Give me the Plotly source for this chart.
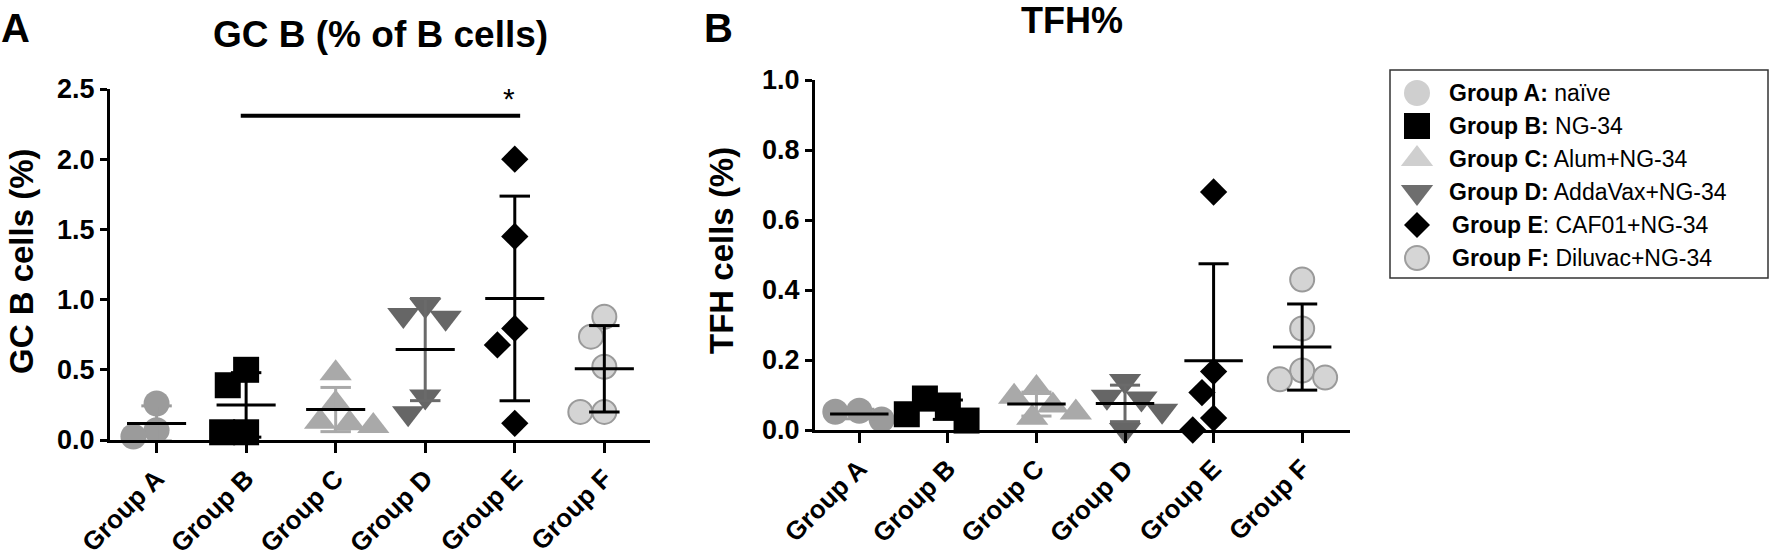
import math
import plotly.graph_objects as go

W, H = 1772, 558

# ---------------- data ----------------
groups = ["Group A", "Group B", "Group C", "Group D", "Group E", "Group F"]
descriptions = ["naïve", "NG-34", "Alum+NG-34", "AddaVax+NG-34", "CAF01+NG-34", "Diluvac+NG-34"]

gcb_values = [
    [0.26, 0.07, 0.025],
    [0.50, 0.39, 0.055, 0.055],
    [0.475, 0.26, 0.13, 0.12, 0.10],
    [0.96, 0.89, 0.87, 0.31, 0.19],
    [2.00, 1.45, 0.795, 0.677, 0.119],
    [0.878, 0.736, 0.522, 0.20, 0.20],
]
tfh_values = [
    [0.055, 0.052, 0.030],
    [0.070, 0.090, 0.027, 0.045],
    [0.12, 0.095, 0.07, 0.05, 0.035],
    [0.14, 0.095, 0.09, 0.055, 0.0],
    [0.68, 0.167, 0.107, 0.034, 0.0],
    [0.43, 0.29, 0.17, 0.145, 0.15],
]
gcb_ticks = [0.0, 0.5, 1.0, 1.5, 2.0, 2.5]
tfh_ticks = [0.0, 0.2, 0.4, 0.6, 0.8, 1.0]
sig_from, sig_to, sig_y, sig_label = "Group B", "Group E", 2.31, "*"

# ---------------- styles ----------------
FONT = "Liberation Sans, Arial, sans-serif"
symbols = ["circle", "square", "triangle-up", "triangle-down", "diamond", "circle"]
fills = ["#9b9b9b", "#000000", "#a9a9a9", "#666666", "#000000", "#d4d4d4"]
edges = ["#9b9b9b", "#000000", "#a9a9a9", "#666666", "#000000", "#9a9a9a"]
edge_w = [0, 0, 0, 0, 0, 2]
sizes = [26, 26, 28, 28, 21, 24]
err_colors = ["#9b9b9b", "#000000", "#a9a9a9", "#6a6a6a", "#000000", "#000000"]
legend_fills = ["#cfcfcf", "#000000", "#cfcfcf", "#6e6e6e", "#000000", "#d6d6d6"]
legend_edges = ["#cfcfcf", "#000000", "#cfcfcf", "#6e6e6e", "#000000", "#9e9e9e"]

panels = [
    dict(name="A", values=gcb_values, ticks=gcb_ticks, x0=110, x1=650, xr=(-0.52, 5.51),
         y0=440, y1=89, yr=(0, 2.5), xa="x", ya="y"),
    dict(name="B", values=tfh_values, ticks=tfh_ticks, x0=815, x1=1350, xr=(-0.5, 5.54),
         y0=430, y1=80, yr=(0, 1.0), xa="x2", ya="y2"),
]

MEAN_HALF = 0.33
CAP_HALF = 0.17
DIAM = 24.0


def swarm(vals, ppu_y, ppu_x, d=DIAM):
    placed, offs = [], []
    for v in vals:
        y = v * ppu_y
        cands = [0.0]
        for px, py in placed:
            dy = abs(y - py)
            if dy < d:
                dx = math.sqrt(d * d - dy * dy)
                cands += [px + dx, px - dx]
        cands.sort(key=lambda c: (round(abs(c), 6), c))
        chosen = cands[-1]
        for c in cands:
            if all((c - px) ** 2 + (y - py) ** 2 >= d * d - 1e-6 for px, py in placed):
                chosen = c
                break
        placed.append((chosen, y))
        offs.append(chosen / ppu_x)
    return offs


def mean_sd(vals):
    m = sum(vals) / len(vals)
    sd = math.sqrt(sum((v - m) ** 2 for v in vals) / (len(vals) - 1))
    return m, sd


fig = go.Figure()

for p in panels:
    ppu_x = (p["x1"] - p["x0"]) / (p["xr"][1] - p["xr"][0])
    ppu_y = (p["y0"] - p["y1"]) / (p["yr"][1] - p["yr"][0])
    for i, vals in enumerate(p["values"]):
        offs = swarm(vals, ppu_y, ppu_x)
        fig.add_trace(go.Scatter(
            x=[i + o for o in offs], y=vals, mode="markers", xaxis=p["xa"], yaxis=p["ya"],
            marker=dict(symbol=symbols[i], size=sizes[i], color=fills[i],
                        line=dict(color=edges[i], width=edge_w[i])),
            cliponaxis=False, showlegend=False, hoverinfo="skip"))
    for i, vals in enumerate(p["values"]):
        m, sd = mean_sd(vals)
        xs = [i, i, None, i - CAP_HALF, i + CAP_HALF, None, i - CAP_HALF, i + CAP_HALF]
        ys = [m - sd, m + sd, None, m + sd, m + sd, None, m - sd, m - sd]
        fig.add_trace(go.Scatter(x=xs, y=ys, mode="lines", xaxis=p["xa"], yaxis=p["ya"],
                                 line=dict(color=err_colors[i], width=3),
                                 showlegend=False, hoverinfo="skip"))
        fig.add_trace(go.Scatter(x=[i - MEAN_HALF, i + MEAN_HALF], y=[m, m], mode="lines",
                                 xaxis=p["xa"], yaxis=p["ya"],
                                 line=dict(color="#000000", width=3),
                                 showlegend=False, hoverinfo="skip"))

# legend drawn on a pixel overlay axis
LEG_X, LEG_TEXT_X, LEG_TOP, LEG_STEP = 1417, 1447, 93, 33.0
for i, g in enumerate(groups):
    fig.add_trace(go.Scatter(
        x=[LEG_X], y=[LEG_TOP + LEG_STEP * i], mode="markers", xaxis="x3", yaxis="y3",
        marker=dict(symbol=symbols[i], size=sizes[i] if i != 4 else 20, color=legend_fills[i],
                    line=dict(color=legend_edges[i], width=edge_w[i])),
        showlegend=False, hoverinfo="skip"))

annotations = []
for i, (g, d) in enumerate(zip(groups, descriptions)):
    label = f"<b>{g}</b>: {d}" if i == 4 else f"<b>{g}:</b> {d}"
    annotations.append(dict(text=label, x=(LEG_TEXT_X + (3 if i >= 4 else 0)) / W,
                            y=1 - (LEG_TOP + LEG_STEP * i) / H, xref="paper", yref="paper",
                            xanchor="left", yanchor="middle", showarrow=False,
                            font=dict(family=FONT, size=23, color="#000")))


def ann(text, px, py, size, angle=0, bold=True):
    return dict(text=f"<b>{text}</b>" if bold else text, x=px / W, y=1 - py / H,
                xref="paper", yref="paper", xanchor="center", yanchor="middle",
                showarrow=False, textangle=angle, font=dict(family=FONT, size=size, color="#000"))


annotations += [
    ann("A", 16, 28, 40),
    ann("B", 718, 28, 40),
    ann("GC B (% of B cells)", 380, 34, 37),
    ann("TFH%", 1072, 20, 36),
    ann("GC B cells (%)", 21, 261, 33, angle=-90),
    ann("TFH cells (%)", 722, 251, 33, angle=-90),
]

i_from, i_to = groups.index(sig_from), groups.index(sig_to)
shapes = [
    dict(type="line", xref="x", yref="y", x0=i_from - 0.06, x1=i_to + 0.06, y0=sig_y, y1=sig_y,
         line=dict(color="#000", width=4)),
    dict(type="rect", xref="paper", yref="paper", x0=1390 / W, x1=1768 / W,
         y0=1 - 278 / H, y1=1 - 70 / H, line=dict(color="#333", width=1.5)),
]
annotations.append(dict(text=sig_label, x=i_to - 0.07, y=sig_y + 0.12, xref="x", yref="y",
                        xanchor="center", yanchor="middle", showarrow=False,
                        font=dict(family=FONT, size=30, color="#000")))

layout = dict(
    template="none",
    width=W, height=H, margin=dict(l=0, r=0, t=0, b=0, pad=0), autosize=False,
    paper_bgcolor="white", plot_bgcolor="rgba(0,0,0,0)",
    shapes=shapes, annotations=annotations, showlegend=False,
)

for p in panels:
    xkey = "xaxis" if p["xa"] == "x" else "xaxis2"
    ykey = "yaxis" if p["ya"] == "y" else "yaxis2"
    layout[xkey] = dict(domain=[p["x0"] / W, p["x1"] / W], range=list(p["xr"]), anchor=p["ya"],
                        tickmode="array", tickvals=list(range(len(groups))), ticktext=groups,
                        tickangle=-45, ticks="outside", ticklen=10, tickwidth=3, tickcolor="#000",
                        showline=True, linewidth=3, linecolor="#000", showgrid=False,
                        zeroline=False, fixedrange=True, automargin=False,
                        tickfont=dict(family=FONT, size=26, color="#000", weight="bold"))
    layout[ykey] = dict(domain=[1 - p["y0"] / H, 1 - p["y1"] / H], range=list(p["yr"]),
                        anchor=p["xa"], tickmode="array", tickvals=p["ticks"],
                        ticktext=[f"{t:.1f}" for t in p["ticks"]],
                        ticks="outside", ticklen=7, tickwidth=3, tickcolor="#000",
                        showline=True, linewidth=3, linecolor="#000", showgrid=False,
                        zeroline=False, fixedrange=True, automargin=False,
                        tickfont=dict(family=FONT, size=27, color="#000", weight="bold"))

layout["xaxis3"] = dict(domain=[0, 1], range=[0, W], anchor="y3", visible=False,
                        fixedrange=True, automargin=False)
layout["yaxis3"] = dict(domain=[0, 1], range=[H, 0], anchor="x3", visible=False,
                        fixedrange=True, automargin=False)

fig.update_layout(**layout)

fig.write_html("out.html", config={"displayModeBar": False},
               post_script="document.body.style.margin='0';document.body.style.overflow='hidden';")
